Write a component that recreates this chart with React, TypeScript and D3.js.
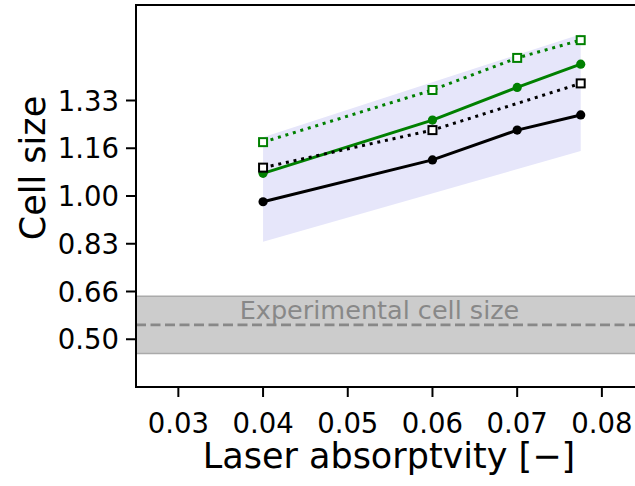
import React from "react";
import * as d3 from "d3";

// Laser absorptivity values at which the simulations were run
const absorptivity = [0.04, 0.06, 0.07, 0.0775];
const absorptivityDotted = [0.04, 0.06, 0.0775];

// Cell size series
const blackSolid = [0.98, 1.126, 1.23, 1.283];
const greenSolid = [1.079, 1.265, 1.379, 1.46];
const blackDotted = [1.099, 1.23, 1.393];
const greenDotted = [1.188, 1.37, 1.482, 1.544];

// Shaded spread band
const bandX = [0.04, 0.0775];
const bandLow = [0.84, 1.157];
const bandHigh = [1.205, 1.565];

// Experimental reference
const expMean = 0.55;
const expLow = 0.45;
const expHigh = 0.65;

const xTicks = [0.03, 0.04, 0.05, 0.06, 0.07, 0.08];
const yTicks = [0.5, 2 / 3, 5 / 6, 1.0, 7 / 6, 4 / 3];
const yTickLabels = ["0.50", "0.66", "0.83", "1.00", "1.16", "1.33"];

const W = 635;
const H = 486;
const FONT = "DejaVu Sans, sans-serif";

export default function App() {
  const x = d3.scaleLinear().domain([0.025, 0.0845]).range([136, 640]);
  const y = d3.scaleLinear().domain([1 / 3, 5 / 3]).range([387, 5]);
  const left = x.range()[0];
  const right = x.range()[1];
  const bottom = y.range()[0];
  const top = y.range()[1];

  const line = (xs: number[], ys: number[]) =>
    d3.line<number>().x((_, i) => x(xs[i])).y((d) => y(d))(ys) || "";

  const band =
    d3
      .area<number>()
      .x((d) => x(d))
      .y0((_, i) => y(bandLow[i]))
      .y1((_, i) => y(bandHigh[i]))(bandX) || "";

  const green = "#008000";
  const sq = 8;

  return (
    <svg
      width={W}
      height={H}
      style={{ position: "absolute", left: 0, top: 0, background: "#fff" }}
    >
      <defs>
        <clipPath id="plotclip">
          <rect x={left} y={top} width={right - left} height={bottom - top} />
        </clipPath>
      </defs>
      <g clipPath="url(#plotclip)">
        {/* experimental band */}
        <rect
          x={left}
          y={y(expHigh)}
          width={right - left}
          height={y(expLow) - y(expHigh)}
          fill="#cccccc"
        />
        <line x1={left} x2={right} y1={y(expHigh)} y2={y(expHigh)} stroke="#aaaaaa" strokeWidth={1.5} />
        <line x1={left} x2={right} y1={y(expLow)} y2={y(expLow)} stroke="#aaaaaa" strokeWidth={1.5} />
        <line
          x1={left}
          x2={right}
          y1={y(expMean)}
          y2={y(expMean)}
          stroke="#888888"
          strokeWidth={2.7}
          strokeDasharray="10,4.5"
        />
        <text
          x={x(0.05375)}
          y={319}
          textAnchor="middle"
          fontFamily={FONT}
          fontSize={25.5}
          fill="#888888"
        >
          Experimental cell size
        </text>

        {/* spread band */}
        <path d={band} fill="#e6e6fa" />

        {/* series lines */}
        <path d={line(absorptivity, blackSolid)} fill="none" stroke="#000" strokeWidth={3} />
        <path d={line(absorptivity, greenSolid)} fill="none" stroke={green} strokeWidth={3} />
        <path
          d={line(absorptivityDotted, blackDotted)}
          fill="none"
          stroke="#000"
          strokeWidth={3}
          strokeDasharray="3,4.8"
        />
        <path
          d={line(absorptivity, greenDotted)}
          fill="none"
          stroke={green}
          strokeWidth={3}
          strokeDasharray="3,4.8"
        />

        {/* markers */}
        {absorptivity.map((a, i) => (
          <circle key={"bs" + i} cx={x(a)} cy={y(blackSolid[i])} r={4.6} fill="#000" />
        ))}
        {absorptivity.map((a, i) => (
          <circle key={"gs" + i} cx={x(a)} cy={y(greenSolid[i])} r={4.6} fill={green} />
        ))}
        {absorptivityDotted.map((a, i) => (
          <rect
            key={"bd" + i}
            x={x(a) - sq / 2}
            y={y(blackDotted[i]) - sq / 2}
            width={sq}
            height={sq}
            fill="#fff"
            stroke="#000"
            strokeWidth={2}
          />
        ))}
        {absorptivity.map((a, i) => (
          <rect
            key={"gd" + i}
            x={x(a) - sq / 2}
            y={y(greenDotted[i]) - sq / 2}
            width={sq}
            height={sq}
            fill="#fff"
            stroke={green}
            strokeWidth={2}
          />
        ))}
      </g>

      {/* spines */}
      <line x1={left} x2={left} y1={top - 1} y2={bottom + 1} stroke="#000" strokeWidth={2} />
      <line x1={left - 1} x2={right} y1={bottom} y2={bottom} stroke="#000" strokeWidth={2} />
      <line x1={left - 1} x2={right} y1={top} y2={top} stroke="#000" strokeWidth={2} />

      {/* x axis ticks */}
      {xTicks.map((t) => (
        <g key={"xt" + t}>
          <line x1={x(t)} x2={x(t)} y1={bottom} y2={bottom + 10} stroke="#000" strokeWidth={2} />
          <text
            x={x(t)}
            y={433}
            textAnchor="middle"
            fontFamily={FONT}
            fontSize={27.5}
            fill="#000"
          >
            {t.toFixed(2)}
          </text>
        </g>
      ))}

      {/* y axis ticks */}
      {yTicks.map((t, i) => (
        <g key={"yt" + i}>
          <line x1={left - 10} x2={left} y1={y(t)} y2={y(t)} stroke="#000" strokeWidth={2} />
          <text
            x={left - 17}
            y={y(t) + 10}
            textAnchor="end"
            fontFamily={FONT}
            fontSize={27.5}
            fill="#000"
          >
            {yTickLabels[i]}
          </text>
        </g>
      ))}

      {/* axis titles */}
      <text
        x={389}
        y={468}
        textAnchor="middle"
        fontFamily={FONT}
        fontSize={35}
        fill="#000"
      >
        Laser absorptvity [−]
      </text>
      <text
        transform="translate(45,168) rotate(-90)"
        textAnchor="middle"
        fontFamily={FONT}
        fontSize={35}
        fill="#000"
      >
        Cell size
      </text>
    </svg>
  );
}
